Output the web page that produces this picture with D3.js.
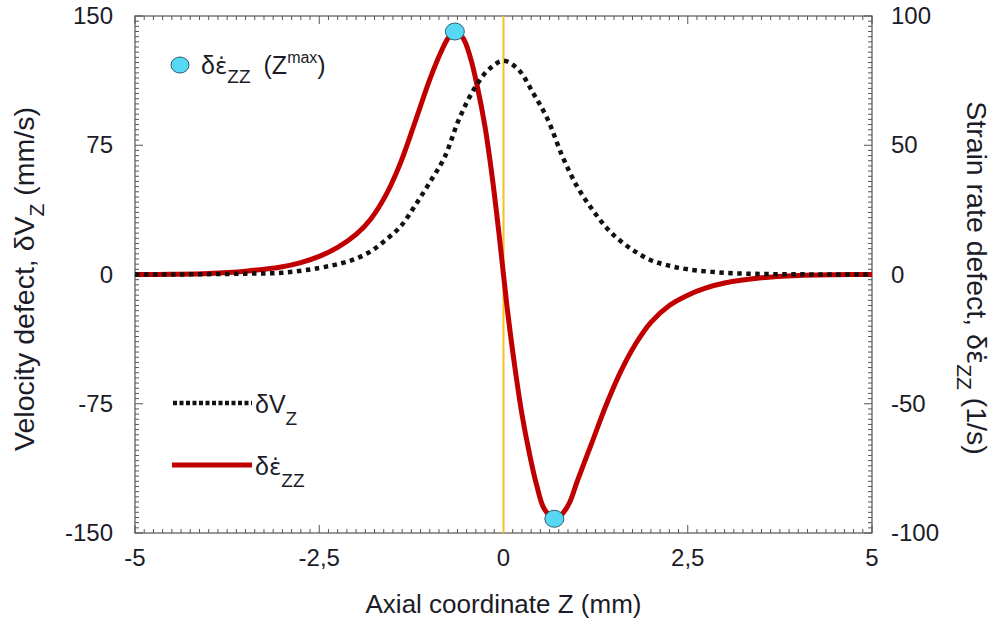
<!DOCTYPE html>
<html>
<head>
<meta charset="utf-8">
<script src="https://cdn.jsdelivr.net/npm/d3@7"></script>
<style>
  html, body { margin: 0; padding: 0; background: #fff; }
  svg { display: block; }
  text { font-family: "Liberation Sans", Arial, sans-serif; fill: #1c1c28; }
  tspan.eps { font-family: "DejaVu Sans", sans-serif; }
</style>
</head>
<body>
<svg id="chart" width="997" height="626"></svg>
<script>
// ---------- data ----------
const zV = [-5,-4.5,-4,-3.5,-3,-2.5,-2.2,-2,-1.8,-1.6,-1.4,-1.2,-1,-0.8,-0.6,-0.4,-0.2,0,0.2,0.4,0.6,0.8,1,1.2,1.4,1.6,1.8,2,2.2,2.5,3,3.5,4,4.5,5];
const velocityDefect = [0,0,0.2,0.5,1.0,3.8,6.5,9.2,13.5,20,27.7,40,53.5,68,90.5,107.5,119,124,119,105.5,90,68.5,51,38,27,19,13,8.3,5.6,3,1,0.3,0.1,0,0];

const zS = [-5,-4.5,-4,-3.5,-3,-2.75,-2.5,-2.25,-2,-1.8,-1.6,-1.4,-1.2,-1,-0.85,-0.75,-0.66,-0.55,-0.45,-0.35,-0.25,-0.15,-0.05,0.05,0.15,0.25,0.35,0.45,0.55,0.69,0.8,0.9,1,1.2,1.4,1.6,1.8,2,2.25,2.5,2.75,3,3.5,4,4.5,5];
const strainDefect = [0,0.1,0.4,1.3,3,4.6,7,10.5,15.5,21.5,30.5,43,59,75.5,86,91.5,94,91.5,84,72,57,37,13,-13,-35,-54,-69,-81.5,-90.5,-94.5,-92.5,-88,-80,-65,-50,-37,-26.5,-18.5,-12,-8,-5.2,-3.3,-1.3,-0.4,-0.1,0];

const zMax = [-0.66, 0.69];
const strainMax = [94, -94.5];

const xTicks = [-5,-2.5,0,2.5,5];
const yLeftTicks = [-150,-75,0,75,150];
const yRightTicks = [-100,-50,0,50,100];

// ---------- layout ----------
const svg = d3.select("#chart");
const L = 135, R = 872, T = 16, B = 533;

const x = d3.scaleLinear().domain([-5,5]).range([L,R]);
const yL = d3.scaleLinear().domain([-150,150]).range([B,T]);
const yR = d3.scaleLinear().domain([-100,100]).range([B,T]);

const fmt = d => String(d).replace(".", ",");

// "δε̇" : epsilon with combining dot above, set in DejaVu for proper mark placement
function epsDot(sel, prefix) {
  sel.append("tspan").text(prefix + "δ");
  sel.append("tspan").attr("class","eps").attr("font-size","0.92em").text("ε\u0307");
}

// frame
svg.append("rect").attr("x",L).attr("y",T).attr("width",R-L).attr("height",B-T)
  .attr("fill","none").attr("stroke","#555").attr("stroke-width",1.2);

const tickG = svg.append("g").attr("stroke","#555").attr("stroke-width",1);
d3.range(-5, 5.0001, 0.125).forEach(v => {
  const major = xTicks.some(t => Math.abs(t - v) < 1e-6);
  const len = major ? 8 : 4;
  tickG.append("line").attr("x1",x(v)).attr("x2",x(v)).attr("y1",B).attr("y2",B-len);
  tickG.append("line").attr("x1",x(v)).attr("x2",x(v)).attr("y1",T).attr("y2",T+len);
});
d3.range(-150, 150.0001, 3).forEach(v => {
  const major = yLeftTicks.some(t => Math.abs(t - v) < 1e-6);
  const len = major ? 8 : 4;
  tickG.append("line").attr("x1",L).attr("x2",L+len).attr("y1",yL(v)).attr("y2",yL(v));
});
d3.range(-100, 100.0001, 2).forEach(v => {
  const major = yRightTicks.some(t => Math.abs(t - v) < 1e-6);
  const len = major ? 8 : 4;
  tickG.append("line").attr("x1",R).attr("x2",R-len).attr("y1",yR(v)).attr("y2",yR(v));
});

// tick labels
const TF = 24;
xTicks.forEach(t => {
  svg.append("text").attr("x",x(t)).attr("y",B+33).attr("text-anchor","middle")
    .attr("font-size",TF).text(fmt(t));
});
yLeftTicks.forEach(t => {
  svg.append("text").attr("x",113).attr("y",yL(t)+8).attr("text-anchor","end")
    .attr("font-size",TF).text(fmt(t));
});
yRightTicks.forEach(t => {
  svg.append("text").attr("x",891).attr("y",yR(t)+8).attr("text-anchor","start")
    .attr("font-size",TF).text(fmt(t));
});

// axis titles
svg.append("text").attr("x",(L+R)/2).attr("y",613).attr("text-anchor","middle")
  .attr("font-size",26).text("Axial coordinate Z (mm)");

const AF = 28.5;
const lt = svg.append("text").attr("transform","translate(34,279) rotate(-90)")
  .attr("text-anchor","middle").attr("font-size",AF);
lt.append("tspan").text("Velocity defect, δV");
lt.append("tspan").attr("font-size",21).attr("dy",10).text("Z");
lt.append("tspan").attr("dy",-10).text(" (mm/s)");

const rt = svg.append("text").attr("transform","translate(967,278) rotate(90)")
  .attr("text-anchor","middle").attr("font-size",AF);
epsDot(rt, "Strain rate defect, ");
rt.append("tspan").attr("font-size",21).attr("dy",10).text("ZZ");
rt.append("tspan").attr("dy",-10).text("  (1/s)");

// vertical line at Z = 0
svg.append("line").attr("x1",x(0)).attr("x2",x(0)).attr("y1",T).attr("y2",B)
  .attr("stroke","#f6c21c").attr("stroke-width",2);

// curves
const curve = d3.curveCatmullRom.alpha(0.5);
const lineV = d3.line().x((d,i)=>x(zV[i])).y(d=>yL(d)).curve(curve);
const lineS = d3.line().x((d,i)=>x(zS[i])).y(d=>yR(d)).curve(curve);

svg.append("path").attr("d",lineS(strainDefect)).attr("fill","none")
  .attr("stroke","#c00000").attr("stroke-width",5).attr("stroke-linejoin","round");
svg.append("path").attr("d",lineV(velocityDefect)).attr("fill","none")
  .attr("stroke","#111").attr("stroke-width",4.5).attr("stroke-dasharray","4.5,4.5");

// max markers
zMax.forEach((z,i) => {
  svg.append("ellipse").attr("cx",x(z)).attr("cy",yR(strainMax[i])).attr("rx",9.5).attr("ry",8.5)
    .attr("fill","#56d8f4").attr("stroke","#2c5f6e").attr("stroke-width",1);
});

// legend: marker
svg.append("ellipse").attr("cx",180).attr("cy",65).attr("rx",9).attr("ry",8)
  .attr("fill","#56d8f4").attr("stroke","#2c5f6e").attr("stroke-width",1);
const lg1 = svg.append("text").attr("x",201).attr("y",74).attr("font-size",25);
epsDot(lg1, "");
lg1.append("tspan").attr("font-size",19).attr("dy",9).text("ZZ");
lg1.append("tspan").attr("dy",-9).attr("dx",6).text(" (Z");
lg1.append("tspan").attr("font-size",16).attr("dy",-11).text("max");
lg1.append("tspan").attr("dy",11).text(")");

// legend: lines
svg.append("line").attr("x1",173).attr("x2",252).attr("y1",403).attr("y2",403)
  .attr("stroke","#111").attr("stroke-width",4.5).attr("stroke-dasharray","4,2.5");
const lg2 = svg.append("text").attr("x",255).attr("y",413).attr("font-size",25);
lg2.append("tspan").text("δV");
lg2.append("tspan").attr("font-size",19).attr("dy",12).text("Z");

svg.append("line").attr("x1",172).attr("x2",252).attr("y1",465).attr("y2",465)
  .attr("stroke","#c00000").attr("stroke-width",5);
const lg3 = svg.append("text").attr("x",255).attr("y",475).attr("font-size",25);
epsDot(lg3, "");
lg3.append("tspan").attr("font-size",19).attr("dy",12).text("ZZ");
</script>
</body>
</html>
